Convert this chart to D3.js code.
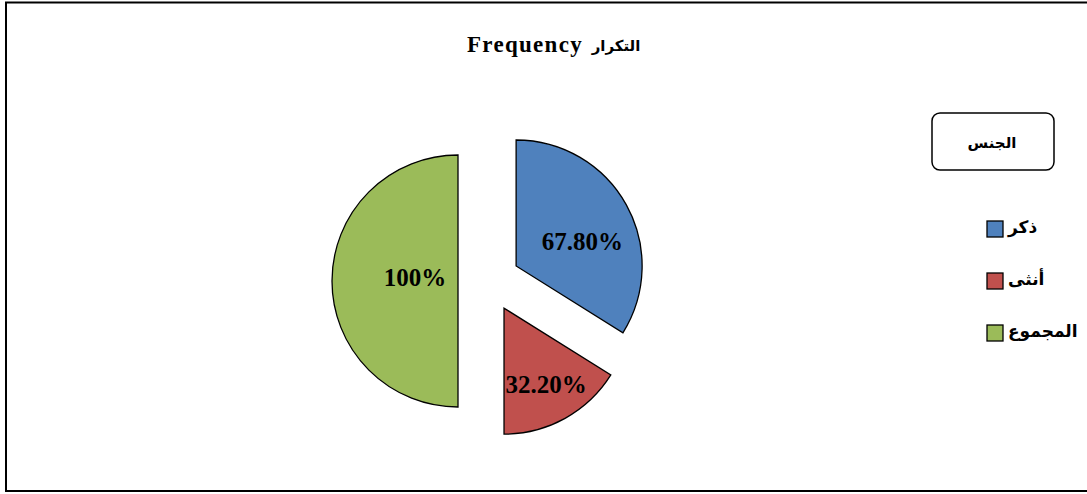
<!DOCTYPE html>
<html>
<head>
<meta charset="utf-8">
<script src="https://cdn.jsdelivr.net/npm/d3@7"></script>
<style>
  body { margin: 0; background: #fff; }
  svg { display: block; }
</style>
</head>
<body>
<div id="chart"></div>
<script>
var categories = ["ذكر", "أنثى", "المجموع"];
var values = [67.8, 32.2, 100];
var valueLabels = ["67.80%", "32.20%", "100%"];
var colors = ["#4F81BD", "#C0504D", "#9BBB59"];
var titleLatin = "Frequency";
var titleArabic = "التكرار";
var legendTitle = "الجنس";

// label distance from each slice centre + small nudge (Excel places them unevenly)
var labelRadius = [70, 87, 43];
var labelNudge = [[5, 9], [0, 0], [0, -4]];

var width = 1087, height = 494;
var svg = d3.select("#chart").append("svg")
  .attr("width", width).attr("height", height);

// outer frame
svg.append("path")
  .attr("d", "M6,492 L6,2.5 L1090,2.5 M6,491 L1090,491")
  .attr("fill", "none")
  .attr("stroke", "#000")
  .attr("stroke-width", 2);

svg.append("text")
  .attr("x", 583)
  .attr("y", 52)
  .attr("text-anchor", "end")
  .attr("font-family", "Liberation Serif, serif")
  .attr("font-weight", "bold")
  .attr("font-size", 23)
  .attr("letter-spacing", 1.3)
  .text(titleLatin);
svg.append("text")
  .attr("x", 616)
  .attr("y", 51)
  .attr("text-anchor", "middle")
  .attr("font-family", "DejaVu Sans, sans-serif")
  .attr("font-weight", "bold")
  .attr("font-size", 15)
  .text(titleArabic);

var cx = 489, cy = 281, radius = 126, explode = 31;

var pie = d3.pie().sort(null).value(function (d) { return d; });
var arcs = pie(values);
var arc = d3.arc().innerRadius(0).outerRadius(radius);

var g = svg.append("g").attr("transform", "translate(" + cx + "," + cy + ")");

var slice = g.selectAll("g.slice")
  .data(arcs)
  .enter().append("g")
  .attr("class", "slice")
  .attr("transform", function (d) {
    var a = (d.startAngle + d.endAngle) / 2;
    return "translate(" + (Math.sin(a) * explode) + "," + (-Math.cos(a) * explode) + ")";
  });

slice.append("path")
  .attr("d", arc)
  .attr("fill", function (d, i) { return colors[i]; })
  .attr("stroke", "#000")
  .attr("stroke-width", 1.3);

slice.append("text")
  .attr("x", function (d, i) {
    var a = (d.startAngle + d.endAngle) / 2;
    return Math.sin(a) * labelRadius[i] + labelNudge[i][0];
  })
  .attr("y", function (d, i) {
    var a = (d.startAngle + d.endAngle) / 2;
    return -Math.cos(a) * labelRadius[i] + labelNudge[i][1];
  })
  .attr("dy", "0.35em")
  .attr("text-anchor", "middle")
  .attr("font-family", "Liberation Serif, serif")
  .attr("font-weight", "bold")
  .attr("font-size", 25)
  .text(function (d, i) { return valueLabels[i]; });

// legend
var legend = svg.append("g");
legend.append("rect")
  .attr("x", 932).attr("y", 113)
  .attr("width", 122).attr("height", 57)
  .attr("rx", 8).attr("ry", 8)
  .attr("fill", "#fff")
  .attr("stroke", "#000")
  .attr("stroke-width", 1.5);
legend.append("text")
  .attr("x", 992).attr("y", 148)
  .attr("text-anchor", "middle")
  .attr("font-family", "DejaVu Sans, sans-serif")
  .attr("font-weight", "bold")
  .attr("font-size", 15)
  .text(legendTitle);

var items = legend.selectAll("g.item")
  .data(categories)
  .enter().append("g")
  .attr("class", "item")
  .attr("transform", function (d, i) { return "translate(987," + (221 + i * 52) + ")"; });
items.append("rect")
  .attr("width", 16).attr("height", 16)
  .attr("fill", function (d, i) { return colors[i]; })
  .attr("stroke", "#000")
  .attr("stroke-width", 1.3);
items.append("text")
  .attr("x", 21).attr("y", 12)
  .attr("font-family", "DejaVu Sans, sans-serif")
  .attr("font-weight", "bold")
  .attr("font-size", 17)
  .text(function (d) { return d; });
</script>
</body>
</html>
